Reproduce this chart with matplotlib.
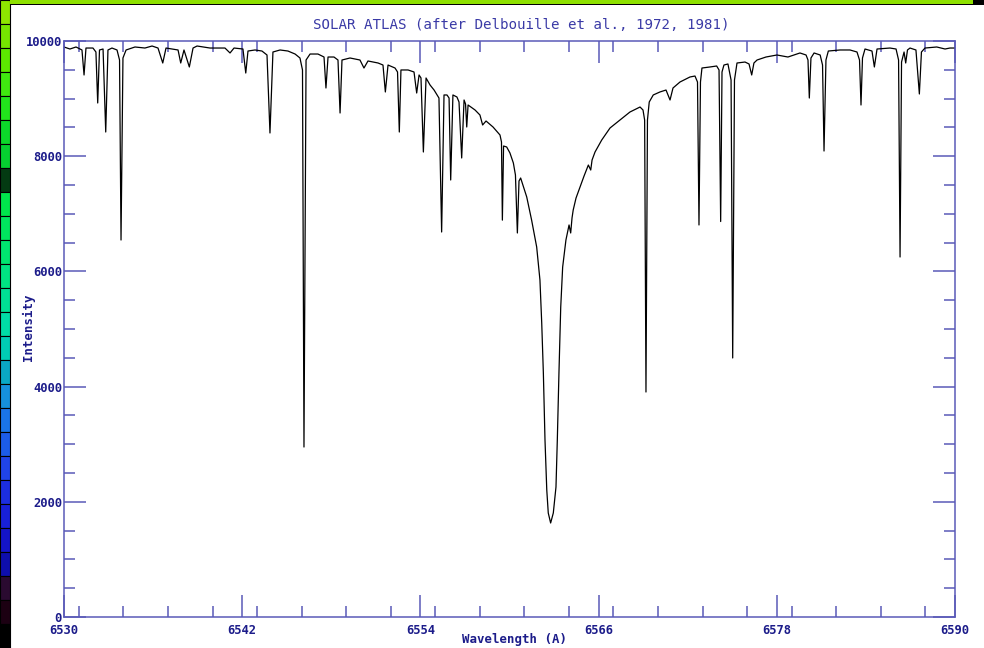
import matplotlib
matplotlib.use("Agg")
import matplotlib.pyplot as plt
from matplotlib.patches import Rectangle
from matplotlib.ticker import MultipleLocator

# ---- data (wavelength in A, intensity) ----
wavelength = [
    6530.00, 6530.40, 6530.81, 6531.21, 6531.35, 6531.48, 6531.95, 6532.15, 6532.27, 6532.39,
    6532.63, 6532.81, 6532.96, 6533.23, 6533.57, 6533.74, 6533.84, 6533.97, 6534.18, 6534.78,
    6535.45, 6535.93, 6536.33, 6536.65, 6536.87, 6537.27, 6537.68, 6537.86, 6538.08, 6538.44,
    6538.69, 6538.96, 6539.83, 6540.84, 6541.18, 6541.45, 6542.05, 6542.24, 6542.39, 6542.86,
    6543.33, 6543.67, 6543.87, 6544.07, 6544.55, 6545.08, 6545.56, 6545.89, 6546.06, 6546.16,
    6546.30, 6546.57, 6547.10, 6547.51, 6547.64, 6547.78, 6548.18, 6548.45, 6548.59, 6548.72,
    6549.26, 6549.93, 6550.20, 6550.47, 6551.15, 6551.48, 6551.64, 6551.82, 6552.29, 6552.46,
    6552.58, 6552.69, 6553.17, 6553.57, 6553.75, 6553.91, 6554.04, 6554.20, 6554.38, 6554.65,
    6554.92, 6555.12, 6555.25, 6555.43, 6555.59, 6555.79, 6555.93, 6556.04, 6556.19, 6556.46,
    6556.60, 6556.78, 6556.94, 6557.04, 6557.12, 6557.21, 6557.68, 6558.01, 6558.19, 6558.42,
    6558.89, 6559.36, 6559.46, 6559.52, 6559.60, 6559.81, 6560.03, 6560.26, 6560.40, 6560.53,
    6560.64, 6560.75, 6561.16, 6561.49, 6561.83, 6562.05, 6562.17, 6562.28, 6562.39, 6562.51,
    6562.61, 6562.77, 6562.95, 6563.13, 6563.22, 6563.33, 6563.45, 6563.58, 6563.80, 6564.01,
    6564.12, 6564.21, 6564.29, 6564.48, 6564.75, 6565.02, 6565.31, 6565.47, 6565.56, 6565.76,
    6566.21, 6566.77, 6567.44, 6568.11, 6568.79, 6568.99, 6569.10, 6569.19, 6569.29, 6569.41,
    6569.68, 6570.13, 6570.54, 6570.81, 6571.01, 6571.48, 6572.15, 6572.49, 6572.66, 6572.76,
    6572.86, 6572.96, 6573.50, 6573.95, 6574.11, 6574.22, 6574.31, 6574.44, 6574.71, 6574.92,
    6575.03, 6575.15, 6575.32, 6575.86, 6576.13, 6576.31, 6576.46, 6576.67, 6577.27, 6578.01,
    6578.75, 6579.56, 6579.97, 6580.10, 6580.19, 6580.30, 6580.51, 6580.92, 6581.08, 6581.18,
    6581.31, 6581.47, 6582.26, 6582.93, 6583.40, 6583.57, 6583.67, 6583.77, 6583.94, 6584.41,
    6584.57, 6584.75, 6585.62, 6586.03, 6586.20, 6586.30, 6586.40, 6586.57, 6586.68, 6586.80,
    6586.97, 6587.37, 6587.60, 6587.74, 6587.98, 6588.77, 6589.33, 6589.66, 6590.00,
]
intensity = [
    9896, 9861, 9896, 9844, 9410, 9878, 9878, 9809, 8924, 9844,
    9861, 8420, 9844, 9878, 9844, 9670, 6545, 9705, 9844, 9896,
    9878, 9913, 9878, 9618, 9878, 9861, 9844, 9618, 9844, 9549,
    9878, 9913, 9878, 9878, 9792, 9878, 9861, 9444, 9826, 9844,
    9826, 9757, 8403, 9809, 9844, 9826, 9774, 9705, 9497, 2951,
    9670, 9774, 9774, 9722, 9184, 9722, 9722, 9670, 8750, 9670,
    9705, 9670, 9531, 9653, 9618, 9583, 9115, 9583, 9531, 9462,
    8420, 9497, 9497, 9462, 9097, 9410, 9358, 8073, 9358, 9236,
    9149, 9063, 9010, 6684, 9063, 9063, 9010, 7587, 9063, 9028,
    8941, 7969, 8976, 8906, 8507, 8889, 8802, 8715, 8542, 8611,
    8507, 8368, 8247, 6890, 8177, 8160, 8056, 7882, 7674, 6667,
    7569, 7622, 7292, 6890, 6424, 5851, 5104, 4236, 3073, 2205,
    1806, 1632, 1806, 2257, 3073, 4236, 5382, 6076, 6545, 6806,
    6667, 6927, 7066, 7274, 7465, 7656, 7847, 7760, 7934, 8073,
    8281, 8490, 8628, 8767, 8854, 8802, 8628, 3906, 8628, 8941,
    9063, 9115, 9149, 8976, 9184, 9288, 9375, 9392, 9288, 6806,
    9288, 9531, 9549, 9566, 9497, 6866, 9462, 9583, 9601, 9323,
    4497, 9323, 9618, 9635, 9601, 9410, 9618, 9670, 9722, 9757,
    9722, 9792, 9757, 9670, 9010, 9705, 9792, 9757, 9583, 8090,
    9670, 9826, 9844, 9844, 9809, 9670, 8889, 9705, 9861, 9826,
    9549, 9861, 9878, 9861, 9670, 6250, 9635, 9809, 9618, 9844,
    9878, 9844, 9080, 9809, 9878, 9896, 9861, 9878, 9878,
]

title = "SOLAR ATLAS (after Delbouille et al., 1972, 1981)"
x_label = "Wavelength (A)"
y_label = "Intensity"
x_ticks = [6530, 6542, 6554, 6566, 6578, 6590]
y_ticks = [0, 2000, 4000, 6000, 8000, 10000]

# colour bar strip on the left edge of the screenshot, top to bottom
strip_colors = [
    "#8ee600", "#76e600", "#5ce800", "#40e810", "#22e41c", "#0cd82a",
    "#06d030", "#033a12", "#00e64c", "#00e65e", "#00e670", "#00e482",
    "#00e094", "#00dca6", "#00ccb4", "#0aa8c4", "#1690dc", "#1a74e8",
    "#1c5ce8", "#2044e8", "#1c2ee0", "#1820d8", "#1414c8", "#0e0eac",
    "#2a0a30", "#1c0012", "#000000",
]

AXIS_BLUE = "#5a5ab8"
LABEL_BLUE = "#1c1c8a"
TITLE_BLUE = "#3a3aa6"
MONO = "DejaVu Sans Mono"

W, H = 984, 648
fig = plt.figure(figsize=(W / 100, H / 100), dpi=100)
fig.patch.set_facecolor("white")

ax = fig.add_axes([64 / W, 31 / H, 891 / W, 576 / H])
ax.plot(wavelength, intensity, color="black", lw=0.9)
ax.set_xlim(6530, 6590)
ax.set_ylim(0, 10000)

ax.set_xticks(x_ticks)
ax.set_yticks(y_ticks)
ax.xaxis.set_minor_locator(MultipleLocator(3))
ax.yaxis.set_minor_locator(MultipleLocator(500))
ax.tick_params(which="both", direction="in", top=True, right=True,
               color=AXIS_BLUE, width=1.1)
ax.tick_params(which="major", length=16)
ax.tick_params(which="minor", length=8)
ax.tick_params(axis="x", which="major", pad=5)
ax.tick_params(axis="y", which="major", pad=1.5)
for lab in ax.get_xticklabels() + ax.get_yticklabels():
    lab.set_fontfamily(MONO)
    lab.set_fontweight("bold")
    lab.set_fontsize(8.7)
    lab.set_color(LABEL_BLUE)
for sp in ax.spines.values():
    sp.set_color(AXIS_BLUE)
    sp.set_linewidth(1.1)

fig.text(521 / W, 1 - 25 / H, title, ha="center", va="center",
         family=MONO, fontsize=10.2, color=TITLE_BLUE)
fig.text(515 / W, 1 - 640 / H, x_label, ha="center", va="center",
         family=MONO, fontweight="bold", fontsize=8.9, color=LABEL_BLUE)
fig.text(28 / W, 1 - 327 / H, y_label, ha="center", va="center", rotation=90,
         family=MONO, fontweight="bold", fontsize=8.9, color=LABEL_BLUE)

# screenshot edges: colour strip on the left, green bar on top
seg = 24
for i, c in enumerate(strip_colors):
    y0 = H - (i + 1) * seg
    fig.add_artist(Rectangle((0, y0 / H), 10 / W, seg / H, transform=fig.transFigure,
                             facecolor=c, edgecolor="black", lw=0.8))
fig.add_artist(Rectangle((10 / W, 1 - 4 / H), 963 / W, 4 / H, transform=fig.transFigure,
                         facecolor="#8ee000", edgecolor="none"))
fig.add_artist(Rectangle((10 / W, 1 - 5 / H), 963 / W, 1.2 / H, transform=fig.transFigure,
                         facecolor="black", edgecolor="none"))
fig.add_artist(Rectangle((973 / W, 1 - 5 / H), 11 / W, 5 / H, transform=fig.transFigure,
                         facecolor="black", edgecolor="none"))

fig.savefig("out.png", dpi=100)
